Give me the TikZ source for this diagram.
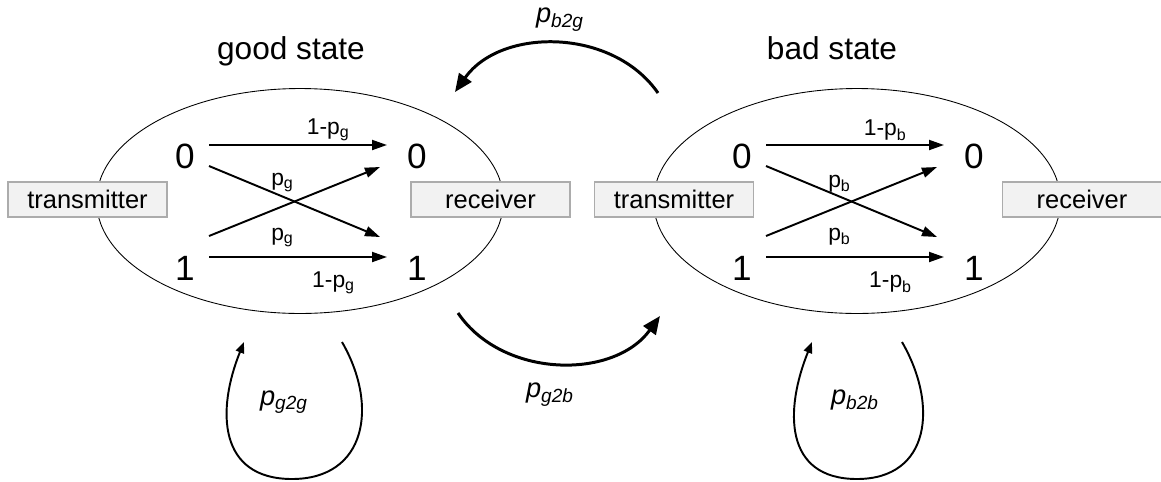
\documentclass[tikz,border=0pt]{standalone}
\usepackage{fontspec}
\setmainfont{Liberation Sans}
\usetikzlibrary{arrows.meta,shapes.geometric}
\tikzset{
  stateell/.style={ellipse, draw, line width=0.5pt, minimum width=8.14cm, minimum height=4.5cm, inner sep=0pt, outer sep=0pt},
  digit/.style={inner sep=0pt, font=\fontsize{20}{22}\selectfont},
  chan/.style={line width=1.1pt, -{Triangle[length=0.3cm,width=0.2cm]}},
  plab/.style={inner sep=2pt, font=\fontsize{13}{15}\selectfont},
  iobox/.style={draw=gray!65, fill=gray!10, line width=0.6pt, minimum width=3.18cm, minimum height=0.7cm, inner sep=0pt, font=\fontsize{14.5}{16}\selectfont},
  statetitle/.style={anchor=base, font=\fontsize{18}{20}\selectfont},
  switcharr/.style={line width=1.7pt, -{Triangle[length=0.36cm,width=0.3cm]}},
  selfloop/.style={line width=1.1pt, -{Triangle[length=0.22cm,width=0.17cm]}},
  tlab/.style={font=\fontsize{15.5}{17}\selectfont\itshape}
}
\newcommand{\chanstate}[1]{\node[stateell] (st) at (300,-201) {};
        \node[digit] (t0) at (185,-156.5) {0};
        \node[digit] (t1) at (185,-268.5) {1};
        \node[digit] (r0) at (417,-156.5) {0};
        \node[digit] (r1) at (417,-268.5) {1};
        \draw[chan] ([shift={(24,11.5)}]t0.center) -- node[plab, pos=0.67, above] (l00) {1-p\textsubscript{#1}} ([shift={(-30,11.5)}]r0.center);
        \draw[chan] ([shift={(24,-9.5)}]t0.center) -- node[plab, pos=0.43, above] (l01) {p\textsubscript{#1}} ([shift={(-37,31.5)}]r1.center);
        \draw[chan] ([shift={(24,32.5)}]t1.center) -- node[plab, pos=0.43, below=0.34cm] (l10) {p\textsubscript{#1}} ([shift={(-37,-10.5)}]r0.center);
        \draw[chan] ([shift={(24,11.5)}]t1.center) -- node[plab, pos=0.7, below=0.21cm] (l11) {1-p\textsubscript{#1}} ([shift={(-30,11.5)}]r1.center);}

\begin{document}
\begin{tikzpicture}[x=0.02cm,y=0.02cm]
\useasboundingbox (0,0) rectangle (1161,-481);

\begin{scope}[name prefix=g-]
  \chanstate{g}
\end{scope}

\begin{scope}[shift={(557,0)}, name prefix=b-]
  \chanstate{b}
\end{scope}

\node[iobox] (g-tx) at (87.5,-199.5) {transmitter};
\node[iobox] (g-rx) at (490.5,-199.5) {receiver};
\node[iobox] (b-tx) at (674,-199.5) {transmitter};
\node[iobox] (b-rx) at (1082,-199.5) {receiver};

\node[statetitle] (g-title) at (291,-59) {good state};
\node[statetitle] (b-title) at (832,-59) {bad state};

% switching between the states
\coordinate (b2gA) at (658,-93);
\coordinate (b2gB) at (455,-92);
\draw[switcharr] (b2gA) to[bend right=55] (b2gB);
\node[tlab] (pb2g) at (560,-20) {p\textsubscript{b2g}};

\coordinate (g2bA) at (458,-313);
\coordinate (g2bB) at (660,-316);
\draw[switcharr] (g2bA) to[bend right=55] (g2bB);
\node[tlab] (pg2b) at (550,-395) {p\textsubscript{g2b}};

% staying in the same state
\coordinate (g2gA) at (342,-342);
\coordinate (g2gM) at (292,-479);
\coordinate (g2gB) at (244,-342);
\draw[selfloop] (g2gA) to[out=-60, in=0, looseness=1.3] (g2gM) to[out=180, in=-112, looseness=1.3] (g2gB);
\node[tlab] (pg2g) at (284,-402) {p\textsubscript{g2g}};

\coordinate (b2bA) at (902,-342);
\coordinate (b2bM) at (857,-479);
\coordinate (b2bB) at (812,-342);
\draw[selfloop] (b2bA) to[out=-60, in=0, looseness=1.3] (b2bM) to[out=180, in=-112, looseness=1.3] (b2bB);
\node[tlab] (pb2b) at (855,-400) {p\textsubscript{b2b}};

\end{tikzpicture}
\end{document}
